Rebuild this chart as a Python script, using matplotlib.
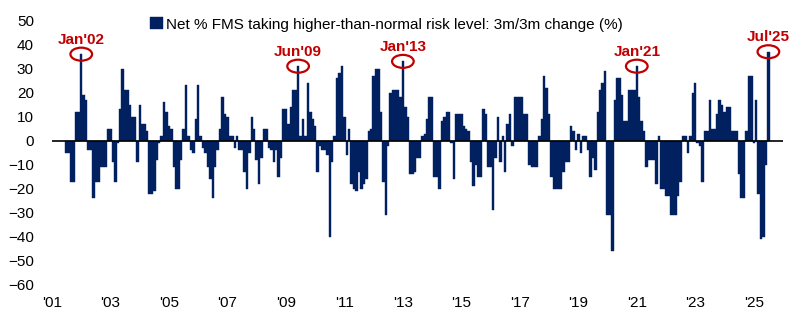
import matplotlib.pyplot as plt
from matplotlib.patches import Ellipse
import numpy as np
import pandas as pd

plt.rcParams['font.family'] = ['Liberation Sans', 'DejaVu Sans']

# monthly series, first bar is Jul 2001
start_month = '2001-07'
risk_change = [
    -5, -5, -17, -17, 12, 12, 36, 19, 17, -4, -4, -24,        # Jul01-Jun02
    -17, -17, -11, -11, -11, 5, 5, -9, -17, -1, 13, 30,       # Jul02-Jun03
    21, 21, 15, 10, 10, -9, 15, 7, 7, 4, -22, -22,            # Jul03-Jun04
    -21, -8, -1, 2, 16, 12, 6, 5, -11, -20, -20, -8,          # Jul04-Jun05
    5, 23, 2, -4, -5, 9, 23, 2, -3, -5, -11, -16,             # Jul05-Jun06
    -24, -11, -4, 5, 18, 11, 10, 2, 2, -3, 2, -4,             # Jul06-Jun07
    -4, -13, -20, -5, 10, 5, -8, -18, -7, 5, 5, -3,           # Jul07-Jun08
    -4, -9, -4, -15, -7, 13, 13, 7, 14, 21, 21, 31,           # Jul08-Jun09
    2, 9, 2, 24, 12, 9, 6, -13, -2, -4, -4, -6,               # Jul09-Jun10
    -40, -9, 2, 26, 28, 31, 10, -6, 5, -18, -20, -21,         # Jul10-Jun11
    -13, -20, -18, -16, 4, 5, 27, 30, 30, 12, -17, -31,       # Jul11-Jun12
    -2, 20, 21, 21, 21, 18, 33, 14, 10, -14, -14, -13,        # Jul12-Jun13
    -7, -7, 2, 3, 9, 18, 18, -15, -15, -20, 8, 10,            # Jul13-Jun14
    12, 12, -1, -16, 11, 11, 11, 6, 5, 4, -9, -19,            # Jul14-Jun15
    -10, -15, -15, 13, 11, -11, -11, -29, -7, 10, -9, 2,      # Jul15-Jun16
    -13, 7, 11, -2, 18, 18, 18, 18, 11, 11, -10, -11,         # Jul16-Jun17
    -11, -11, 2, 9, 27, 22, 11, -15, -20, -20, -20, -20,      # Jul17-Jun18
    -13, -9, -9, 6, 4, -4, 3, -5, 2, 2, -4, -15,              # Jul18-Jun19
    -7, -12, 12, 21, 24, 29, -31, -31, -46, 17, 26, 26,       # Jul19-Jun20
    19, 8, 8, 21, 21, 21, 31, 18, 8, 4, -11, -8,              # Jul20-Jun21
    -8, -8, -18, 2, -20, -20, -23, -23, -31, -31, -31, -23,   # Jul21-Jun22
    -17, 2, 2, -5, 2, 20, 24, -1, -2, -17, 4, 4,              # Jul22-Jun23
    17, 5, 5, 11, 17, 15, 12, 14, 14, 4, 4, 4,                # Jul23-Jun24
    -14, -24, -24, 4, 27, 27, -1, 17, -22, -41, -40, -10, 37, # Jul24-Jul25
]
peak_months = ['2002-01', '2009-06', '2013-01', '2021-01', '2025-07']
series_label = 'Net % FMS taking higher-than-normal risk level: 3m/3m change (%)'
year_ticks = list(range(2001, 2026, 2))
y_ticks = list(range(-60, 51, 10))

navy = '#002060'
red = '#C00000'

months = pd.period_range(start_month, periods=len(risk_change), freq='M')
x = np.asarray(months.year + (months.month - 1) / 12.0)
vals = np.array(risk_change, dtype=float)

fig = plt.figure(figsize=(8.06, 3.29), dpi=100)
ax = fig.add_axes([52 / 806, 44 / 329, 731 / 806, 264.5 / 329])

ax.bar(x, vals, width=1 / 12, color=navy, edgecolor=navy, linewidth=0.3,
       label=series_label, zorder=2)
ax.axhline(0, color='black', lw=1.2, zorder=3)

# circle the peaks and tag them with the month
for m in peak_months:
    idx = months.get_loc(pd.Period(m, freq='M'))
    px, py = x[idx], vals[idx]
    ax.add_patch(Ellipse((px, py), width=0.74, height=5.4, fill=False,
                         edgecolor=red, lw=1.6, zorder=4))
    ax.annotate(months[idx].strftime("%b'%y"), xy=(px, py), xytext=(0, 7.5),
                textcoords='offset points', ha='center', va='baseline',
                color=red, fontweight='bold', fontsize=11, zorder=5)

ax.set_xlim(2001, 2026)
ax.set_ylim(-60, 50)
ax.set_xticks(year_ticks)
ax.set_xticklabels(["'%02d" % (y % 100) for y in year_ticks])
ax.set_yticks(y_ticks)
for s in ax.spines.values():
    s.set_visible(False)
ax.tick_params(axis='both', length=0, labelsize=11, labelcolor='black')
ax.tick_params(axis='y', pad=13)
ax.tick_params(axis='x', pad=8)

ax.legend(loc='center left', bbox_to_anchor=(150 / 806, 1 - 24.5 / 329),
          bbox_transform=fig.transFigure, frameon=False, borderpad=0,
          borderaxespad=0, handlelength=0.85, handleheight=0.85,
          handletextpad=0.2, fontsize=11)

fig.savefig('out.png', dpi=100)
